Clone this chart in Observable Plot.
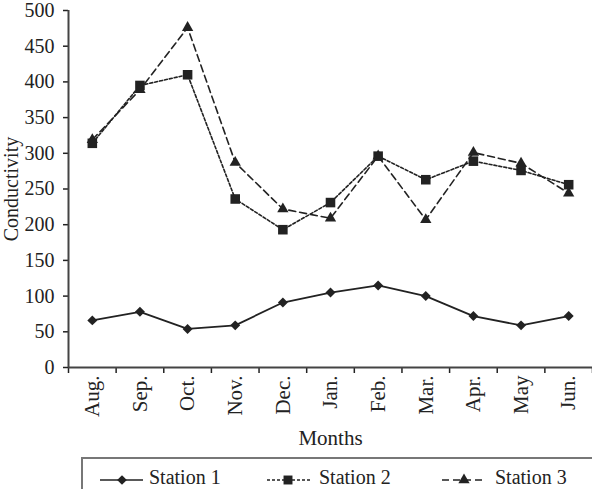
<!DOCTYPE html>
<html><head><meta charset="utf-8">
<script src="https://cdn.jsdelivr.net/npm/d3@7"></script>
<script src="https://cdn.jsdelivr.net/npm/@observablehq/plot@0.6"></script>
<style>
body{margin:0;background:#fff;}
#wrap{position:relative;width:592px;height:489px;overflow:hidden;font-family:"Liberation Serif",serif;}
</style></head><body><div id="wrap"></div>
<script>
const months = ["Aug.","Sep.","Oct.","Nov.","Dec.","Jan.","Feb.","Mar.","Apr.","May","Jun."];
const station1 = [66,78,54,59,91,105,115,100,72,59,72];
const station2 = [314,395,410,236,193,231,296,263,289,276,256];
const station3 = [319,389,476,287,222,209,296,207,301,286,244];
const yTicks = [0,50,100,150,200,250,300,350,400,450,500];
const seriesNames = ["Station 1","Station 2","Station 3"];

const rows = vals => vals.map((v, i) => ({i, v}));
const idx = months.map((_, i) => i);
const boundaries = d3.range(-0.5, months.length, 1);
const ink = "#222";

const plot = Plot.plot({
  width: 592, height: 456,
  marginTop: 10, marginLeft: 68, marginRight: 0, marginBottom: 89,
  style: {fontFamily: "Liberation Serif", fontSize: "20px", color: ink, background: "transparent", overflow: "visible"},
  x: {type: "linear", domain: [-0.5, months.length - 0.5]},
  y: {type: "linear", domain: [0, 500]},
  marks: [
    Plot.axisY({ticks: yTicks, tickSize: 5, tickPadding: 9, label: null, strokeWidth: 1.5}),
    Plot.axisX({ticks: boundaries, tickSize: 6, tickFormat: () => "", label: null, strokeWidth: 1.5}),
    Plot.axisX({ticks: idx, tickSize: 0, tickPadding: 8, tickRotate: -90, tickFormat: i => months[i], label: null, fontSize: 21}),
    Plot.ruleX([-0.5], {stroke: "#444", strokeWidth: 2}),
    Plot.ruleY([0], {stroke: "#444", strokeWidth: 2}),
    Plot.line(rows(station1), {x: "i", y: "v", stroke: ink, strokeWidth: 1.8}),
    Plot.line(rows(station2), {x: "i", y: "v", stroke: ink, strokeWidth: 1.6, strokeDasharray: "3,2"}),
    Plot.line(rows(station3), {x: "i", y: "v", stroke: ink, strokeWidth: 1.6, strokeDasharray: "7,4"}),
    Plot.dot(rows(station1), {x: "i", y: "v", symbol: "diamond2", r: 4.5, fill: ink, stroke: "none"}),
    Plot.dot(rows(station2), {x: "i", y: "v", symbol: "square", r: 5.4, fill: ink, stroke: "none"}),
    Plot.dot(rows(station3), {x: "i", y: "v", symbol: "triangle", r: 4.2, fill: ink, stroke: "none"}),
    Plot.text(["Conductivity"], {text: d => d, frameAnchor: "left", textAnchor: "middle", lineAnchor: "middle", rotate: -90, dx: -57, fill: ink, fontSize: 20}),
    Plot.text(["Months"], {text: d => d, frameAnchor: "bottom", textAnchor: "middle", lineAnchor: "middle", dy: 71, fill: ink, fontSize: 21})
  ]
});
plot.style.position = "absolute";
plot.style.left = "0px";
plot.style.top = "0px";
const wrap = document.getElementById("wrap");
wrap.appendChild(plot);

// Legend
const leg = d3.select(wrap).append("svg")
  .attr("width", 520).attr("height", 32)
  .style("position", "absolute").style("left", "81px").style("top", "457px")
  .style("font-family", "Liberation Serif").style("font-size", "20px");
leg.append("rect").attr("x", 1).attr("y", 1).attr("width", 540).attr("height", 80)
  .attr("fill", "none").attr("stroke", "#777").attr("stroke-width", 2);
const items = [
  {x0: 19, x1: 62, sx: 41, dash: null, sym: d3.symbolDiamond2, size: 60, tx: 68},
  {x0: 186, x1: 231, sx: 207, dash: "3,2", sym: d3.symbolSquare, size: 80, tx: 238},
  {x0: 361, x1: 405, sx: 383, dash: "7,4", sym: d3.symbolTriangle, size: 55, tx: 414}
];
items.forEach((it, k) => {
  const cy = 23;
  leg.append("line").attr("x1", it.x0).attr("x2", it.x1).attr("y1", cy).attr("y2", cy)
    .attr("stroke", ink).attr("stroke-width", 1.6).attr("stroke-dasharray", it.dash);
  leg.append("path").attr("d", d3.symbol(it.sym, it.size)()).attr("transform", `translate(${it.sx},${cy})`).attr("fill", ink);
  leg.append("text").attr("x", it.tx).attr("y", 27).attr("fill", ink).text(seriesNames[k]);
});
</script></body></html>
